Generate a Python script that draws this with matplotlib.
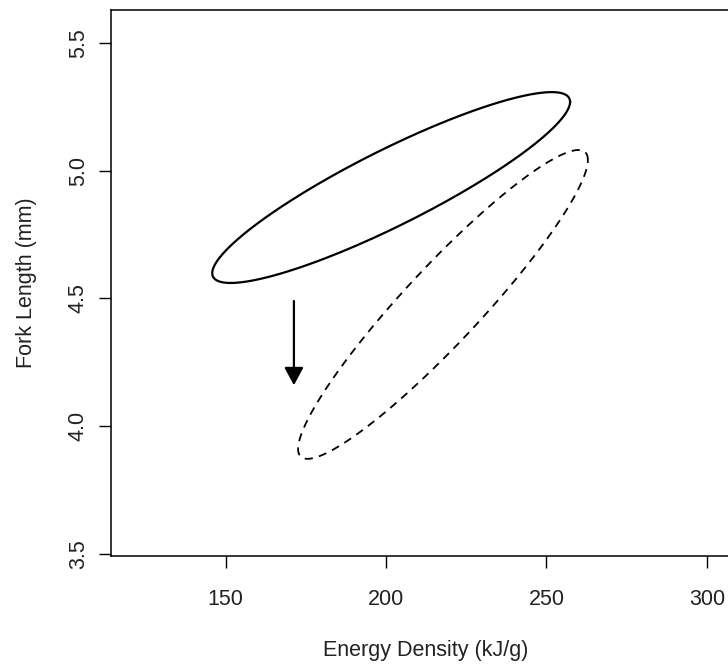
import numpy as np
import matplotlib
matplotlib.use("Agg")
import matplotlib.pyplot as plt

plt.rcParams['font.family'] = ['Liberation Sans', 'DejaVu Sans']

# group ellipses: centre, half-range in x and y, correlation
before_centre = (201.6, 4.934)
before_spread = (55.75, 0.3735)
before_rho = 0.897

after_centre = (217.75, 4.4765)
after_spread = (45.15, 0.6045)
after_rho = 0.935

# shift arrow (x, y start, y end)
arrow_x = 171.3
arrow_y = (4.49, 4.16)

x_ticks = [150, 200, 250, 300]
y_ticks = [3.5, 4.0, 4.5, 5.0, 5.5]


def ellipse(centre, spread, rho, n=300):
    t = np.linspace(0, 2 * np.pi, n)
    d = np.arccos(rho)
    x = centre[0] + spread[0] * np.cos(t)
    y = centre[1] + spread[1] * np.cos(t - d)
    return x, y


fig = plt.figure(figsize=(7.28, 6.65), dpi=100)
ax = fig.add_axes([0.152, 0.164, 0.8645, 0.821])

ex, ey = ellipse(before_centre, before_spread, before_rho)
ax.plot(ex, ey, color='black', lw=1.6)
ex, ey = ellipse(after_centre, after_spread, after_rho)
ax.plot(ex, ey, color='black', lw=1.3, dashes=(4.5, 3.5))

ax.annotate('', xy=(arrow_x, arrow_y[1]), xytext=(arrow_x, arrow_y[0]),
            arrowprops=dict(arrowstyle='-|>,head_length=1.08,head_width=0.58',
                            color='black', lw=1.6, shrinkA=0, shrinkB=0))

ax.set_xlim(114.2, 310.3)
ax.set_ylim(3.492, 5.629)
ax.set_xticks(x_ticks)
ax.set_yticks(y_ticks)
ax.set_yticklabels([f'{v:.1f}' for v in y_ticks], rotation=90, va='center')
ax.tick_params(direction='out', length=8.6, width=1, labelsize=15.5,
               colors='black', labelcolor='#222222')
ax.tick_params(axis='x', pad=15.5)
ax.tick_params(axis='y', pad=7)
for s in ax.spines.values():
    s.set_linewidth(1.1)

ax.set_xlabel('Energy Density (kJ/g)', fontsize=15.5, color='#222222', labelpad=21.5)
ax.set_ylabel('Fork Length (mm)', fontsize=15.5, color='#222222', labelpad=22.5)

fig.savefig('out.png', dpi=100)
